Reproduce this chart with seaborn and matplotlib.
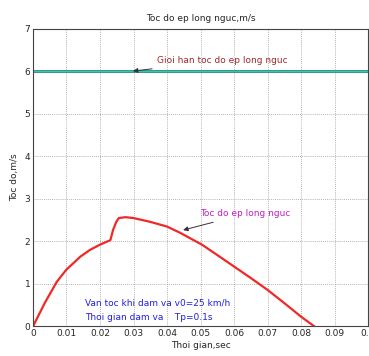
import matplotlib
matplotlib.use("Agg")
import matplotlib.pyplot as plt
import seaborn as sns
import pandas as pd

sns.set_theme(style="white")
plt.rcParams['font.family'] = ['DejaVu Sans']

# data
t = [0.0, 0.0035, 0.0071, 0.0099, 0.0141, 0.0170, 0.0199, 0.0231, 0.0239, 0.0248,
     0.0256, 0.0276, 0.030, 0.035, 0.040, 0.044, 0.0505, 0.055, 0.060, 0.065,
     0.070, 0.075, 0.080, 0.084]
v = [0.0, 0.55, 1.05, 1.33, 1.64, 1.80, 1.92, 2.03, 2.27, 2.45,
     2.55, 2.57, 2.55, 2.46, 2.35, 2.20, 1.92, 1.68, 1.41, 1.14,
     0.86, 0.55, 0.23, 0.0]
limit_t = [0.0, 0.1]
limit_v = [6.0, 6.0]
xticks = [0, 0.01, 0.02, 0.03, 0.04, 0.05, 0.06, 0.07, 0.08, 0.09, 0.1]
xticklabels = ["0", "0.01", "0.02", "0.03", "0.04", "0.05", "0.06", "0.07", "0.08", "0.09", "0.1"]
yticks = [0, 1, 2, 3, 4, 5, 6, 7]

df = pd.DataFrame({"t": t, "v": v})
dl = pd.DataFrame({"t": limit_t, "v": limit_v})

fig = plt.figure(figsize=(3.69, 3.56), dpi=100)
ax = fig.add_axes([0.0894, 0.083, 0.908, 0.836])

sns.lineplot(data=dl, x="t", y="v", ax=ax, color="#2a7f74", linewidth=2.0)
sns.lineplot(data=dl, x="t", y="v", ax=ax, color="#30c8b2", linewidth=1.0)
sns.lineplot(data=df, x="t", y="v", ax=ax, color="#f02828", linewidth=1.6)

ax.set_xlim(0, 0.1)
ax.set_ylim(0, 7)
ax.set_xticks(xticks)
ax.set_xticklabels(xticklabels, fontsize=6.5)
ax.set_yticks(yticks)
ax.set_yticklabels([str(y) for y in yticks], fontsize=6.5)
ax.tick_params(axis="both", length=2, pad=2, direction="in")
ax.grid(True, linestyle=(0, (1, 1.5)), color="#9a9a9a", linewidth=0.6)
for s in ax.spines.values():
    s.set_color("#444444")
    s.set_linewidth(0.8)

ax.set_title("Toc do ep long nguc,m/s", fontsize=6.5, pad=6)
ax.set_xlabel("Thoi gian,sec", fontsize=6.5, labelpad=2)
ax.set_ylabel("Toc do,m/s", fontsize=6.5, labelpad=4)

ax.annotate("Gioi han toc do ep long nguc", xy=(0.029, 6.0), xytext=(0.037, 6.25),
            fontsize=6.5, color="#a02828", va="center", ha="left",
            arrowprops=dict(arrowstyle="-|>", color="#333333", lw=0.7,
                            mutation_scale=7))
ax.annotate("Toc do ep long nguc", xy=(0.044, 2.25), xytext=(0.05, 2.65),
            fontsize=6.5, color="#c020c0", va="center", ha="left",
            arrowprops=dict(arrowstyle="-|>", color="#333333", lw=0.7,
                            mutation_scale=7))
ax.text(0.0155, 0.55, "Van toc khi dam va v0=25 km/h", fontsize=6.5, color="#2020e0",
        va="center", ha="left")
ax.text(0.0155, 0.2, "Thoi gian dam va    Tp=0.1s", fontsize=6.5, color="#2020e0",
        va="center", ha="left")

fig.savefig("out.png", dpi=100)
